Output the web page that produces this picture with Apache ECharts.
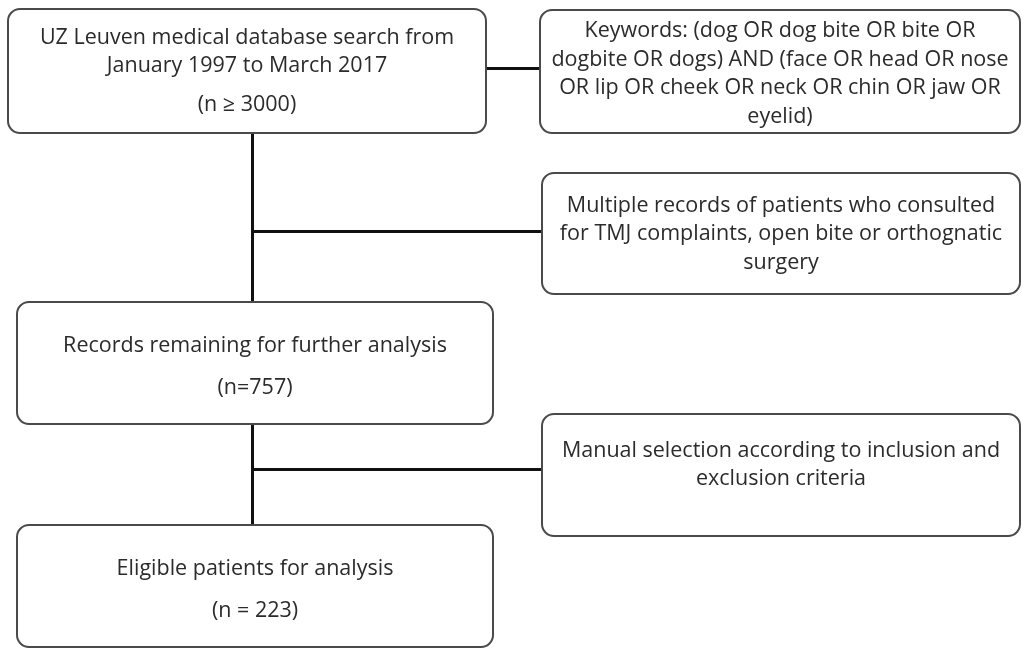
<!DOCTYPE html>
<html>
<head>
<meta charset="utf-8">
<title>Flow chart</title>
<script src="https://cdn.jsdelivr.net/npm/echarts@6/dist/echarts.min.js"></script>
<style>
  html, body { margin: 0; padding: 0; background: #fff; }
  #main { width: 1022px; height: 649px; }
</style>
</head>
<body>
<div id="main"></div>
<script>
// main flow steps (left column)
var stepTexts = [
  'UZ Leuven medical database search from\nJanuary 1997 to March 2017',
  'Records remaining for further analysis',
  'Eligible patients for analysis'
]
var stepCounts = ['(n \u2265 3000)', '(n=757)', '(n = 223)']
// side notes (right column)
var sideTexts = [
  'Keywords: (dog OR dog bite OR bite OR\ndogbite OR dogs) AND (face OR head OR nose\nOR lip OR cheek OR neck OR chin OR jaw OR\neyelid)',
  'Multiple records of patients who consulted\nfor TMJ complaints, open bite or orthognatic\nsurgery',
  'Manual selection according to inclusion and\nexclusion criteria'
]

// layout, in picture pixels: [x0, y0, x1, y1, textY, countY]
var stepBoxes = [
  [8, 9, 486, 133, 52, 105],
  [17, 302, 493, 424, 346, 388],
  [17, 525, 493, 647, 569, 611]
]
var sideBoxes = [
  [540, 10, 1020, 133, 74],
  [542, 173, 1020, 294, 234],
  [542, 414, 1020, 536, 465]
]
// connectors
var links = [
  [[486, 68], [540, 68]],
  [[252, 133], [252, 302]],
  [[252, 231], [542, 231]],
  [[252, 424], [252, 525]],
  [[252, 469], [542, 469]]
]

var FONT = '"Open Sans", Lato, sans-serif'
var chart = echarts.init(document.getElementById('main'))

function boxItem(params, api, box, text, count) {
  var p0 = api.coord([box[0], box[1]]), p1 = api.coord([box[2], box[3]])
  var cx = (p0[0] + p1[0]) / 2
  var kids = [{
    type: 'rect',
    shape: { x: p0[0], y: p0[1], width: p1[0] - p0[0], height: p1[1] - p0[1], r: 12 },
    style: { fill: '#fff', stroke: '#4a4a4a', lineWidth: 2 }
  }, {
    type: 'text',
    style: {
      text: text, x: cx, y: api.coord([0, box[4]])[1],
      align: 'center', verticalAlign: 'middle',
      fontFamily: FONT, fontSize: 21.5, lineHeight: 28.5, fill: '#2b2b2b'
    }
  }]
  if (count) {
    kids.push({
      type: 'text',
      style: {
        text: count, x: cx, y: api.coord([0, box[5]])[1],
        align: 'center', verticalAlign: 'middle',
        fontFamily: FONT, fontSize: 21.5, fill: '#2b2b2b'
      }
    })
  }
  return { type: 'group', children: kids }
}

chart.setOption({
  animation: false,
  grid: { left: 0, right: 0, top: 0, bottom: 0 },
  xAxis: { type: 'value', min: 0, max: 1022, show: false },
  yAxis: { type: 'value', min: 0, max: 649, inverse: true, show: false },
  series: [{
    type: 'lines',
    coordinateSystem: 'cartesian2d',
    z: 1,
    lineStyle: { color: '#111', width: 3, opacity: 1 },
    data: links.map(function (l) { return { coords: l } })
  }, {
    type: 'custom',
    z: 2,
    data: stepTexts.map(function (t, i) { return [i] }),
    renderItem: function (params, api) {
      var i = params.dataIndex
      return boxItem(params, api, stepBoxes[i], stepTexts[i], stepCounts[i])
    }
  }, {
    type: 'custom',
    z: 2,
    data: sideTexts.map(function (t, i) { return [i] }),
    renderItem: function (params, api) {
      var i = params.dataIndex
      return boxItem(params, api, sideBoxes[i], sideTexts[i], null)
    }
  }]
})
</script>
</body>
</html>
